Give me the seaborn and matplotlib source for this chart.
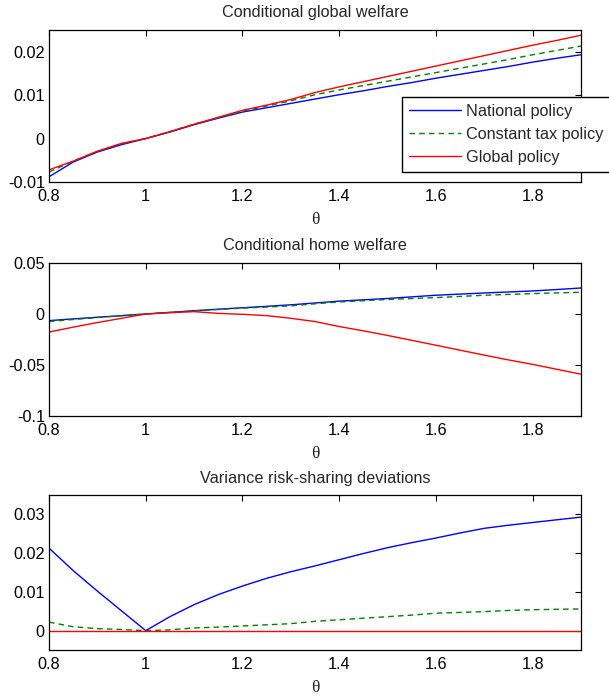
import numpy as np
import pandas as pd
import seaborn as sns
import matplotlib.pyplot as plt

# Data.
theta = [0.80, 0.85, 0.90, 0.95, 1.00, 1.05, 1.10, 1.15, 1.20, 1.25, 1.30, 1.35,
         1.40, 1.45, 1.50, 1.55, 1.60, 1.65, 1.70, 1.75, 1.80, 1.85, 1.90]

policies = ["National policy", "Constant tax policy", "Global policy"]

# Conditional global welfare.
national_global = [-0.0088, -0.0054, -0.0031, -0.0014, 0.0, 0.0015, 0.0032, 0.0047,
                   0.0061, 0.0071, 0.0081, 0.0091, 0.0101, 0.0110, 0.0120, 0.0129,
                   0.0139, 0.0148, 0.0157, 0.0166, 0.0176, 0.0185, 0.0193]
constant_global = [-0.0077, -0.0052, -0.0030, -0.0012, 0.0, 0.0016, 0.0033, 0.0048,
                   0.0063, 0.0075, 0.0087, 0.0101, 0.0112, 0.0122, 0.0132, 0.0142,
                   0.0152, 0.0162, 0.0172, 0.0182, 0.0193, 0.0203, 0.0213]
global_global = [-0.0072, -0.0052, -0.0029, -0.0011, 0.0, 0.0016, 0.0033, 0.0049,
                 0.0065, 0.0077, 0.0090, 0.0106, 0.0119, 0.0131, 0.0143, 0.0155,
                 0.0167, 0.0179, 0.0191, 0.0203, 0.0215, 0.0226, 0.0238]

# Conditional home welfare.
national_home = [-0.0065, -0.0048, -0.0032, -0.0016, 0.0, 0.0016, 0.0032, 0.0047,
                 0.0061, 0.0075, 0.0090, 0.0108, 0.0126, 0.0139, 0.0152, 0.0168,
                 0.0184, 0.0195, 0.0206, 0.0216, 0.0226, 0.0240, 0.0255]
constant_home = [-0.0074, -0.0054, -0.0035, -0.0017, 0.0, 0.0015, 0.0030, 0.0044,
                 0.0058, 0.0068, 0.0080, 0.0100, 0.0118, 0.0130, 0.0142, 0.0152,
                 0.0161, 0.0172, 0.0184, 0.0192, 0.0200, 0.0207, 0.0213]
global_home = [-0.0177, -0.0129, -0.0084, -0.0042, 0.0, 0.0013, 0.0023, 0.0006,
               -0.0003, -0.0016, -0.0042, -0.0074, -0.0123, -0.0165, -0.0210, -0.0258,
               -0.0306, -0.0355, -0.0403, -0.0450, -0.0494, -0.0542, -0.0590]

# Variance risk-sharing deviations.
national_var = [0.0213, 0.0155, 0.0102, 0.0051, 0.0, 0.0036, 0.0067, 0.0093,
                0.0115, 0.0135, 0.0152, 0.0167, 0.0183, 0.0199, 0.0214, 0.0227,
                0.0239, 0.0252, 0.0264, 0.0272, 0.0279, 0.0286, 0.0293]
constant_var = [0.0022, 0.0010, 0.0005, 0.0003, 0.0, 0.0002, 0.0007, 0.0009,
                0.0012, 0.0015, 0.0018, 0.0024, 0.0028, 0.0032, 0.0036, 0.0040,
                0.0045, 0.0047, 0.0049, 0.0052, 0.0054, 0.0055, 0.0056]
global_var = [0.0, 0.0, 0.0, 0.0, 0.0, 0.0, 0.0, 0.0, 0.0, 0.0, 0.0, 0.0,
              0.0, 0.0, 0.0, 0.0, 0.0, 0.0, 0.0, 0.0, 0.0, 0.0, 0.0]

titles = ["Conditional global welfare", "Conditional home welfare",
          "Variance risk-sharing deviations"]
xticks = [0.8, 1.0, 1.2, 1.4, 1.6, 1.8]
xticklabels = ["0.8", "1", "1.2", "1.4", "1.6", "1.8"]
yticks = [[-0.01, 0, 0.01, 0.02], [-0.1, -0.05, 0, 0.05], [0, 0.01, 0.02, 0.03]]
yticklabels = [["-0.01", "0", "0.01", "0.02"], ["-0.1", "-0.05", "0", "0.05"],
               ["0", "0.01", "0.02", "0.03"]]
ylims = [(-0.01, 0.025), (-0.1, 0.05), (-0.005, 0.035)]

panels = [
    [national_global, constant_global, global_global],
    [national_home, constant_home, global_home],
    [national_var, constant_var, global_var],
]

# Style.
sns.set_style("white")
plt.rcParams["font.family"] = ["Liberation Sans", "DejaVu Sans"]
fs = 11.7

colors = ["#0000FF", "#008000", "#FF0000"]
dashes = [None, (4, 3), None]

fig = plt.figure(figsize=(6.09, 6.99), dpi=100)
W, H = 609, 699
left, right = 49, 581
boxes = [(30, 182), (263, 416), (495, 650)]

for i, (top, bottom) in enumerate(boxes):
    ax = fig.add_axes([left / W, 1 - bottom / H, (right - left) / W, (bottom - top) / H])
    df = pd.DataFrame({"theta": theta})
    for name, vals, c, d in zip(policies, panels[i], colors, dashes):
        df[name] = vals
        sns.lineplot(data=df, x="theta", y=name, ax=ax, color=c,
                     linewidth=1.0, label=name if i == 0 else None)
        if d is not None:
            ax.lines[-1].set_dashes(d)
    ax.set_xlim(0.8, 1.9)
    ax.set_ylim(*ylims[i])
    ax.set_xticks(xticks)
    ax.set_xticklabels(xticklabels)
    ax.set_yticks(yticks[i])
    ax.set_yticklabels(yticklabels[i])
    ax.tick_params(direction="in", length=4, width=0.8, top=True, right=True,
                   labelsize=fs, colors="black")
    ax.tick_params(axis="x", pad=5)
    ax.tick_params(axis="y", pad=3)
    for s in ax.spines.values():
        s.set_color("black")
        s.set_linewidth(0.9)
    ax.set_title(titles[i], fontsize=fs, pad=9)
    ax.set_xlabel("θ", fontsize=12.5, family=["Liberation Serif", "DejaVu Serif"], labelpad=6)
    ax.set_ylabel("")
    if i == 0:
        leg = ax.legend(loc="upper left",
                        bbox_to_anchor=((402 - left) / (right - left), (bottom - 97) / (bottom - top)),
                        borderaxespad=0, fontsize=fs, frameon=True, fancybox=False,
                        framealpha=1, edgecolor="black", handlelength=3.2,
                        handletextpad=0.3, labelspacing=0.5, borderpad=0.42)
        leg.get_frame().set_linewidth(1.0)
    elif ax.get_legend() is not None:
        ax.get_legend().remove()

fig.savefig("out.png", dpi=100)
